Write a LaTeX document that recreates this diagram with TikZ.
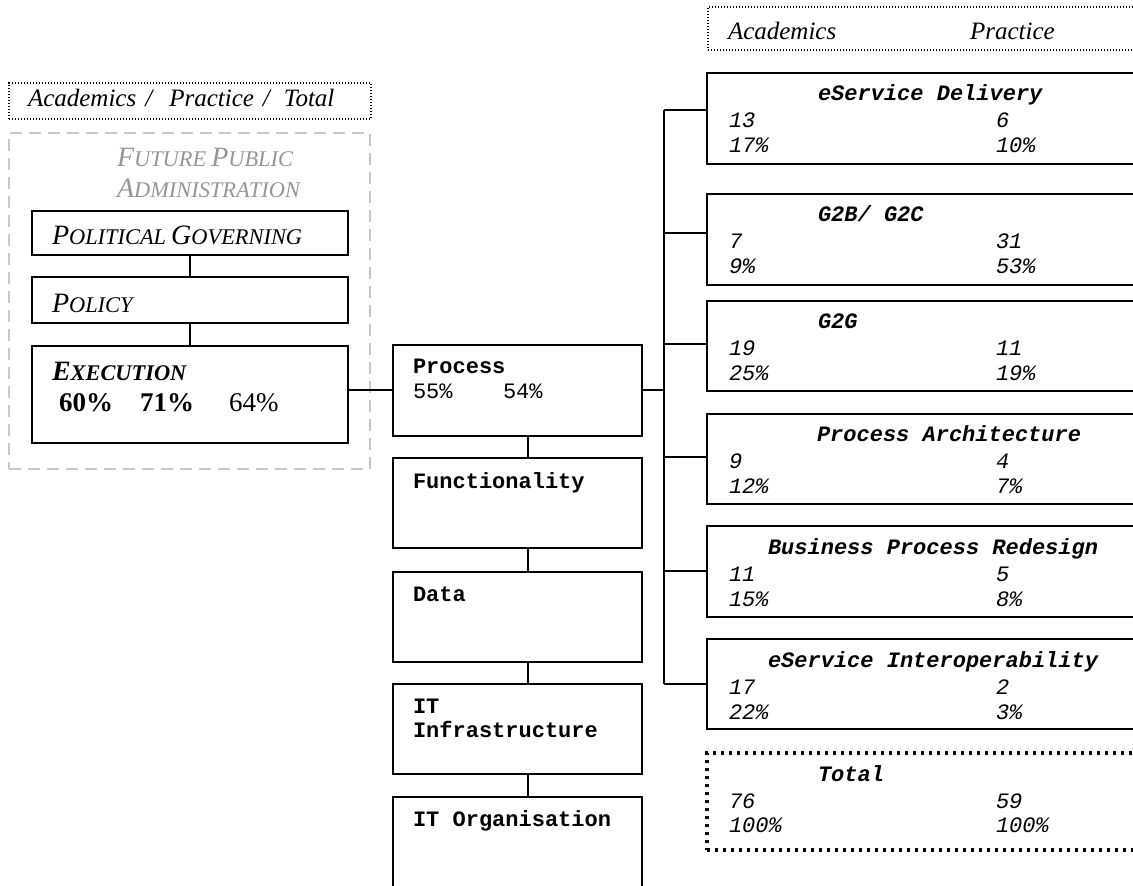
\documentclass[tikz,border=0pt]{standalone}
\usepackage{fontspec}
\setmainfont{Liberation Serif}
\setmonofont{Liberation Mono}
\definecolor{fpagray}{RGB}{150,150,150}
\definecolor{fpaline}{RGB}{200,200,200}
% scaled capitals: big first letter, smaller remaining capitals
\newcommand\scw[4]{{\fontsize{#1}{#1}\selectfont #3}{\fontsize{#2}{#2}\selectfont #4}}
\newcommand\catbox[9]{%
  \node[box, minimum height=#3] (#1) at (707,#2) {};
  \node[tttitle] at ([shift={(#4,28)}]#1.north west) {#5};
  \node[ttnum] at ([shift={(22,55)}]#1.north west) {#6};
  \node[ttnum] at ([shift={(22,80)}]#1.north west) {#7};
  \node[ttnum] at ([shift={(289,55)}]#1.north west) {#8};
  \node[ttnum] at ([shift={(289,80)}]#1.north west) {#9};
}
\begin{document}
\begin{tikzpicture}[x=0.5pt,y=-0.5pt,
  box/.style={draw, line width=1pt, rectangle, inner sep=0pt, outer sep=0pt,
    anchor=north west, minimum width=250pt},
  midbox/.style={box, minimum width=124.5pt, minimum height=45pt},
  leftbox/.style={box, minimum width=158pt},
  thindot/.style={draw, line width=0.6pt, dash pattern=on 0.6pt off 0.9pt},
  thickdot/.style={draw, line width=1.6pt, dash pattern=on 1.6pt off 2.4pt},
  graydash/.style={draw=fpaline, line width=1pt, dash pattern=on 6pt off 3.5pt},
  link/.style={line width=1pt},
  txt/.style={inner sep=0pt, outer sep=0pt, anchor=base west},
  serifhead/.style={txt, font=\fontsize{12.5}{14}\selectfont\itshape},
  ttb/.style={txt, font=\fontsize{11}{13}\selectfont\ttfamily\bfseries},
  ttr/.style={txt, font=\fontsize{11}{13}\selectfont\ttfamily},
  tttitle/.style={txt, font=\fontsize{11}{13}\selectfont\ttfamily\bfseries\itshape},
  ttnum/.style={txt, font=\fontsize{11}{13}\selectfont\ttfamily\itshape},
  pct/.style={txt, font=\fontsize{13.5}{15}\selectfont},
  pctb/.style={txt, font=\fontsize{13.5}{15}\selectfont\bfseries},
]
\useasboundingbox (0,0) rectangle (1133,886);
\clip (0,0) rectangle (1133,886);

% ---- left column: layers of public administration ----
\node[box, thindot, minimum width=181pt, minimum height=18pt] (hdrL) at (9,83) {};
\node[serifhead] (hdrLt) at (28,107)
  {Academics\hspace{4.5pt}/\hspace{8.5pt}Practice\hspace{4.5pt}/\hspace{7pt}Total};

\node[box, graydash, minimum width=180.5pt, minimum height=168pt] (fpa) at (9,133) {};
\node[txt, text=fpagray, font=\itshape] (fpa1) at (117,167)
  {\scw{14}{11.2}{F}{UTURE} \scw{14}{11.2}{P}{UBLIC}};
\node[txt, text=fpagray, font=\itshape] (fpa2) at (117,198)
  {\scw{14}{11.2}{A}{DMINISTRATION}};

\node[leftbox, minimum height=22pt] (pg) at (32,211) {};
\node[txt, font=\itshape] (pgt) at (52,245)
  {\scw{14}{11.2}{P}{OLITICAL} \scw{14}{11.2}{G}{OVERNING}};

\node[leftbox, minimum height=23pt] (pol) at (32,277) {};
\node[txt, font=\itshape] (polt) at (52,313) {\scw{14}{11.2}{P}{OLICY}};

\node[leftbox, minimum height=48.5pt] (exe) at (32,346) {};
\node[txt, font=\bfseries\itshape] (exet) at (52,381) {\scw{14}{11.2}{E}{XECUTION}};
\node[pctb] (exa) at (59,412) {60\%};
\node[pctb] (exp) at (140,412) {71\%};
\node[pct] (exs) at (229,412) {64\%};

\draw[link] (pg.south) -- (pol.north);
\draw[link] (pol.south) -- (exe.north);

% ---- middle column: architecture layers ----
\node[box, minimum width=124.5pt, minimum height=45.5pt] (proc) at (393,345) {};
\node[ttb] at (413,374) {Process};
\node[ttr] at (413,399) {55\%};
\node[ttr] at (503,399) {54\%};

\node[midbox] (func) at (393,458) {};
\node[ttb] at (413,488) {Functionality};
\node[midbox] (data) at (393,572) {};
\node[ttb] at (413,601) {Data};
\node[midbox] (itinf) at (393,684) {};
\node[ttb] at (413,713) {IT};
\node[ttb] at (413,737) {Infrastructure};
\node[box, minimum width=124.5pt, minimum height=70pt] (itorg) at (393,797) {};
\node[ttb] at (413,826) {IT Organisation};

\coordinate (col) at (528,0);
\draw[link] (proc.south -| col) -- (func.north -| col);
\draw[link] (func.south -| col) -- (data.north -| col);
\draw[link] (data.south -| col) -- (itinf.north -| col);
\draw[link] (itinf.south -| col) -- (itorg.north -| col);
\draw[link] (proc.west) -- (proc.west -| exe.east);

% ---- right column: process topics ----
\node[box, thindot, minimum height=21.5pt] (hdrR) at (708,7) {};
\node[serifhead] at (728,40) {Academics};
\node[serifhead] at (970,40) {Practice};

\catbox{esd}{73}{45.5pt}{111}{eService Delivery}{13}{17\%}{6}{10\%}
\catbox{g2b}{194}{45.5pt}{111}{G2B/ G2C}{7}{9\%}{31}{53\%}
\catbox{g2g}{301}{45pt}{111}{G2G}{19}{25\%}{11}{19\%}
\catbox{pa}{414}{45pt}{110}{Process Architecture}{9}{12\%}{4}{7\%}
\catbox{bpr}{526}{45.5pt}{61}{Business Process Redesign}{11}{15\%}{5}{8\%}
\catbox{esi}{639}{45pt}{61}{eService Interoperability}{17}{22\%}{2}{3\%}

\node[box, thickdot, minimum height=48.5pt] (tot) at (707,753) {};
\node[tttitle] at ([shift={(111,28)}]tot.north west) {Total};
\node[ttnum] at ([shift={(22,55)}]tot.north west) {76};
\node[ttnum] at ([shift={(22,79)}]tot.north west) {100\%};
\node[ttnum] at ([shift={(289,55)}]tot.north west) {59};
\node[ttnum] at ([shift={(289,79)}]tot.north west) {100\%};

% bus from the Process layer to the topics
\coordinate (b1) at (664,110);
\coordinate (b2) at (664,233);
\coordinate (b3) at (664,344);
\coordinate (b4) at (664,457);
\coordinate (b5) at (664,571);
\coordinate (b6) at (664,684);
\draw[link] (proc.east) -- (proc.east -| b1);
\draw[link] (b1) -- (b6);
\draw[link] (b1) -- (b1 -| esd.west);
\draw[link] (b2) -- (b2 -| g2b.west);
\draw[link] (b3) -- (b3 -| g2g.west);
\draw[link] (b4) -- (b4 -| pa.west);
\draw[link] (b5) -- (b5 -| bpr.west);
\draw[link] (b6) -- (b6 -| esi.west);
\end{tikzpicture}
\end{document}
